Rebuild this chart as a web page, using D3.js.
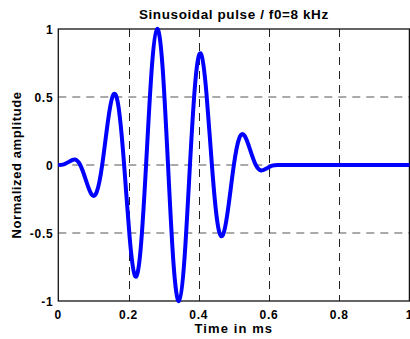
<!DOCTYPE html>
<html>
<head>
<meta charset="utf-8">
<title>Sinusoidal pulse</title>
<script src="https://cdnjs.cloudflare.com/ajax/libs/d3/7.8.5/d3.min.js"></script>
<style>
  body { margin: 0; background: #fff; }
  svg { display: block; font-family: "Liberation Sans", Arial, sans-serif; font-weight: bold; }
</style>
</head>
<body>
<svg id="svg" width="410" height="339"></svg>
<script>
// samples of the pulse, every 1/8 period (1/64 ms), then the flat tail
const time = [0, 0.0156, 0.0313, 0.0469, 0.0625, 0.0781, 0.0938, 0.1094, 0.125, 0.1406,
  0.1563, 0.1719, 0.1875, 0.2031, 0.2188, 0.2344, 0.25, 0.2656, 0.2813, 0.2969,
  0.3125, 0.3281, 0.3438, 0.3594, 0.375, 0.3906, 0.4063, 0.4219, 0.4375, 0.4531,
  0.4688, 0.4844, 0.5, 0.5156, 0.5313, 0.5469, 0.5625, 0.5781, 0.5938, 0.6094,
  0.625, 0.65, 0.7, 0.8, 0.9, 1.0];
const amp = [0, 0.005, 0.025, 0.04, 0, -0.107, -0.212, -0.199, 0, 0.307,
  0.515, 0.421, 0, -0.529, -0.818, -0.622, 0, 0.689, 1.0, 0.724,
  0, -0.724, -1.0, -0.689, 0, 0.622, 0.818, 0.529, 0, -0.421,
  -0.515, -0.307, 0, 0.199, 0.212, 0.107, 0, -0.04, -0.025, -0.005,
  0, 0, 0, 0, 0, 0];
const xTicks = [0, 0.2, 0.4, 0.6, 0.8, 1];
const yTicks = [-1, -0.5, 0, 0.5, 1];

const title = 'Sinusoidal pulse / f0=8 kHz';
const xLabel = 'Time in ms';
const yLabel = 'Normalized amplitude';

const plotL = 58.3, plotR = 409.4, plotT = 29, plotB = 301;
const x = d3.scaleLinear().domain([0, 1]).range([plotL, plotR]);
const y = d3.scaleLinear().domain([-1, 1]).range([plotB, plotT]);

const svg = d3.select('#svg');

// grid
svg.append('g')
  .selectAll('line')
  .data(yTicks.filter(d => d > -1 && d < 1))
  .enter().append('line')
  .attr('x1', plotL).attr('x2', plotR)
  .attr('y1', d => y(d)).attr('y2', d => y(d))
  .attr('stroke', '#555').attr('stroke-width', 1)
  .attr('stroke-dasharray', '8,6');

svg.append('g')
  .selectAll('line')
  .data(xTicks.filter(d => d > 0 && d < 1))
  .enter().append('line')
  .attr('x1', d => Math.round(x(d)) + 0.5).attr('x2', d => Math.round(x(d)) + 0.5)
  .attr('y1', plotT).attr('y2', plotB)
  .attr('stroke', '#222').attr('stroke-width', 1)
  .attr('stroke-dasharray', '8,6');

// box
svg.append('rect')
  .attr('x', plotL).attr('y', plotT)
  .attr('width', plotR - plotL).attr('height', plotB - plotT)
  .attr('fill', 'none').attr('stroke', '#111').attr('stroke-width', 1.3);

// tick labels
svg.append('g')
  .selectAll('text')
  .data(xTicks)
  .enter().append('text')
  .attr('x', d => x(d)).attr('y', plotB + 17.5)
  .attr('text-anchor', 'middle')
  .attr('font-size', 12).attr('letter-spacing', 0.7)
  .text(d => String(d));

svg.append('g')
  .selectAll('text')
  .data(yTicks)
  .enter().append('text')
  .attr('x', plotL - 5).attr('y', d => y(d) + 5)
  .attr('text-anchor', 'end')
  .attr('font-size', 12).attr('letter-spacing', 0.7)
  .text(d => String(d));

// the pulse
const line = d3.line()
  .x((d, i) => x(time[i]))
  .y(d => y(d))
  .curve(d3.curveNatural);

svg.append('path')
  .attr('d', line(amp))
  .attr('fill', 'none')
  .attr('stroke', '#0000ff')
  .attr('stroke-width', 4)
  .attr('stroke-linejoin', 'round');

// titles
svg.append('text')
  .attr('x', (plotL + plotR) / 2).attr('y', 19.3)
  .attr('text-anchor', 'middle')
  .attr('font-size', 13.5).attr('letter-spacing', 0.6)
  .text(title);

svg.append('text')
  .attr('x', (plotL + plotR) / 2).attr('y', 332.7)
  .attr('text-anchor', 'middle')
  .attr('font-size', 13).attr('letter-spacing', 1.1)
  .text(xLabel);

svg.append('text')
  .attr('transform', 'translate(20.5,' + ((plotT + plotB) / 2) + ') rotate(-90)')
  .attr('text-anchor', 'middle')
  .attr('font-size', 13).attr('letter-spacing', 0.6)
  .text(yLabel);
</script>
</body>
</html>
